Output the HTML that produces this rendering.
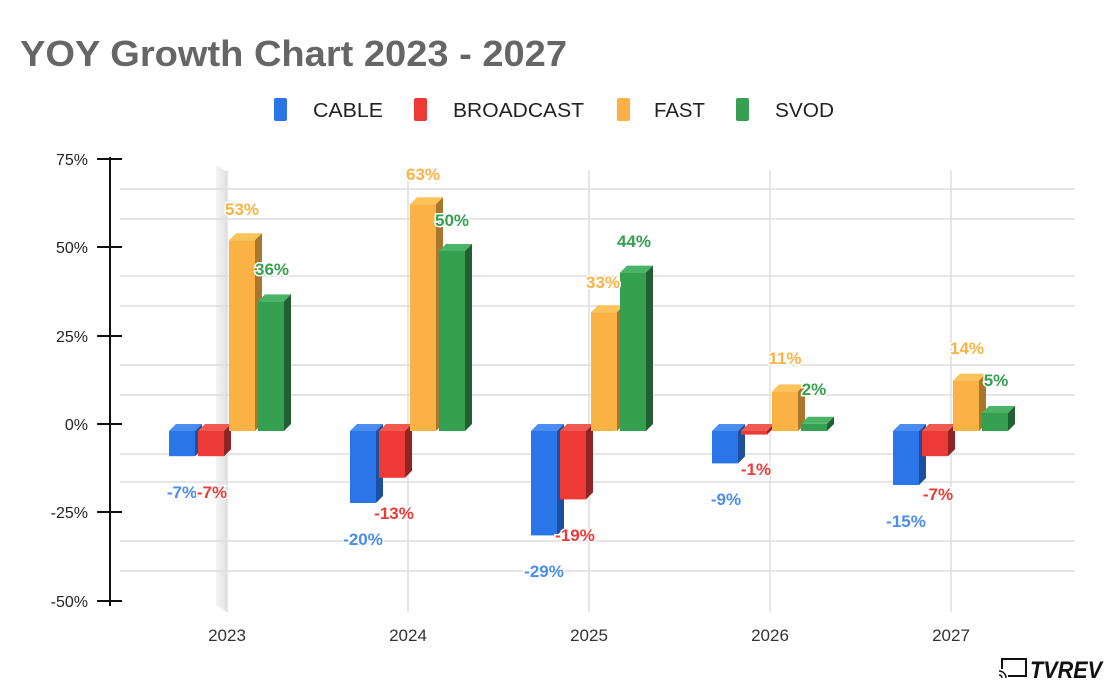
<!DOCTYPE html>
<html><head><meta charset="utf-8"><style>
body{margin:0;background:#fff;}
svg{display:block;font-family:"Liberation Sans",Arial,sans-serif;}
.l{font-weight:bold;font-size:17px;text-anchor:middle;stroke:#fff;stroke-width:3;paint-order:stroke;}
</style></head><body>
<svg width="1108" height="681" viewBox="0 0 1108 681">
<rect width="1108" height="681" fill="#fff"/>
<text x="20" y="66" font-size="36" font-weight="bold" fill="#666" textLength="547" lengthAdjust="spacingAndGlyphs">YOY Growth Chart 2023 - 2027</text>
<g font-size="20" fill="#222">
<rect x="274" y="98" width="13" height="23" rx="2" fill="#2a75e8"/><text x="313" y="117" textLength="70" lengthAdjust="spacingAndGlyphs">CABLE</text>
<rect x="414" y="98" width="13" height="23" rx="2" fill="#ee3a36"/><text x="453" y="117" textLength="131" lengthAdjust="spacingAndGlyphs">BROADCAST</text>
<rect x="617" y="98" width="13" height="23" rx="2" fill="#fbb244"/><text x="654" y="117" textLength="51" lengthAdjust="spacingAndGlyphs">FAST</text>
<rect x="736" y="98" width="13" height="23" rx="2" fill="#35a04f"/><text x="775" y="117" textLength="59" lengthAdjust="spacingAndGlyphs">SVOD</text>
</g>
<defs><linearGradient id="bg" x1="0" x2="1"><stop offset="0" stop-color="#f4f4f4"/><stop offset="1" stop-color="#e2e2e2"/></linearGradient></defs>
<polygon points="216,165 227,172 227,612 216,605" fill="url(#bg)"/>
<g stroke="#ddd" stroke-width="1.5">
<line x1="120" x2="1075" y1="189" y2="189"/><line x1="120" x2="1075" y1="219" y2="219"/>
<line x1="120" x2="1075" y1="276" y2="276"/><line x1="120" x2="1075" y1="306" y2="306"/>
<line x1="120" x2="1075" y1="365" y2="365"/><line x1="120" x2="1075" y1="395" y2="395"/>
<line x1="120" x2="1075" y1="454" y2="454"/><line x1="120" x2="1075" y1="482" y2="482"/>
<line x1="120" x2="1075" y1="541" y2="541"/><line x1="120" x2="1075" y1="571" y2="571"/>
<line x1="227" x2="227" y1="170" y2="612"/><line x1="408" x2="408" y1="170" y2="612"/>
<line x1="589" x2="589" y1="170" y2="612"/><line x1="770" x2="770" y1="170" y2="612"/>
<line x1="951" x2="951" y1="170" y2="612"/>
</g>
<g stroke="#111" stroke-width="2">
<line x1="110" x2="110" y1="157" y2="606"/>
<line x1="97" x2="122" y1="159" y2="159"/><line x1="97" x2="122" y1="247" y2="247"/>
<line x1="97" x2="122" y1="336" y2="336"/><line x1="97" x2="122" y1="424" y2="424"/>
<line x1="97" x2="122" y1="512" y2="512"/><line x1="97" x2="122" y1="601" y2="601"/>
</g>
<g font-size="16" fill="#222" text-anchor="end">
<text x="88" y="165">75%</text><text x="88" y="253">50%</text><text x="88" y="342">25%</text>
<text x="88" y="430">0%</text><text x="88" y="518">-25%</text><text x="88" y="607">-50%</text>
</g>
<g font-size="17" fill="#333" text-anchor="middle">
<text x="227" y="641">2023</text><text x="408" y="641">2024</text><text x="589" y="641">2025</text>
<text x="770" y="641">2026</text><text x="951" y="641">2027</text>
</g>
<g>
<g transform="translate(169,0)"><rect y="431" width="26" height="25.2" fill="#2a75e8"/><polygon points="0,431 7,424 33,424 26,431" fill="#4a8cf0"/><polygon points="26,431 33,424 33,449.2 26,456.2" fill="#1d4fa0"/></g>
<g transform="translate(198,0)"><rect y="431" width="26" height="25.2" fill="#ee3a36"/><polygon points="0,431 7,424 33,424 26,431" fill="#f05a50"/><polygon points="26,431 33,424 33,449.2 26,456.2" fill="#8e2423"/></g>
<g transform="translate(229,0)"><rect y="240.2" width="26" height="190.8" fill="#fbb244"/><polygon points="0,240.2 7,233.2 33,233.2 26,240.2" fill="#fdc35b"/><polygon points="26,240.2 33,233.2 33,424 26,431" fill="#a8762c"/></g>
<g transform="translate(258,0)"><rect y="301.4" width="26" height="129.6" fill="#35a04f"/><polygon points="0,301.4 7,294.4 33,294.4 26,301.4" fill="#4cb469"/><polygon points="26,301.4 33,294.4 33,424 26,431" fill="#225f33"/></g>
<g transform="translate(350,0)"><rect y="431" width="26" height="72" fill="#2a75e8"/><polygon points="0,431 7,424 33,424 26,431" fill="#4a8cf0"/><polygon points="26,431 33,424 33,496 26,503" fill="#1d4fa0"/></g>
<g transform="translate(379,0)"><rect y="431" width="26" height="46.8" fill="#ee3a36"/><polygon points="0,431 7,424 33,424 26,431" fill="#f05a50"/><polygon points="26,431 33,424 33,470.8 26,477.8" fill="#8e2423"/></g>
<g transform="translate(410,0)"><rect y="204.2" width="26" height="226.8" fill="#fbb244"/><polygon points="0,204.2 7,197.2 33,197.2 26,204.2" fill="#fdc35b"/><polygon points="26,204.2 33,197.2 33,424 26,431" fill="#a8762c"/></g>
<g transform="translate(439,0)"><rect y="251" width="26" height="180" fill="#35a04f"/><polygon points="0,251 7,244 33,244 26,251" fill="#4cb469"/><polygon points="26,251 33,244 33,424 26,431" fill="#225f33"/></g>
<g transform="translate(531,0)"><rect y="431" width="26" height="104.4" fill="#2a75e8"/><polygon points="0,431 7,424 33,424 26,431" fill="#4a8cf0"/><polygon points="26,431 33,424 33,528.4 26,535.4" fill="#1d4fa0"/></g>
<g transform="translate(560,0)"><rect y="431" width="26" height="68.4" fill="#ee3a36"/><polygon points="0,431 7,424 33,424 26,431" fill="#f05a50"/><polygon points="26,431 33,424 33,492.4 26,499.4" fill="#8e2423"/></g>
<g transform="translate(591,0)"><rect y="312.2" width="26" height="118.8" fill="#fbb244"/><polygon points="0,312.2 7,305.2 33,305.2 26,312.2" fill="#fdc35b"/><polygon points="26,312.2 33,305.2 33,424 26,431" fill="#a8762c"/></g>
<g transform="translate(620,0)"><rect y="272.6" width="26" height="158.4" fill="#35a04f"/><polygon points="0,272.6 7,265.6 33,265.6 26,272.6" fill="#4cb469"/><polygon points="26,272.6 33,265.6 33,424 26,431" fill="#225f33"/></g>
<g transform="translate(712,0)"><rect y="431" width="26" height="32.4" fill="#2a75e8"/><polygon points="0,431 7,424 33,424 26,431" fill="#4a8cf0"/><polygon points="26,431 33,424 33,456.4 26,463.4" fill="#1d4fa0"/></g>
<g transform="translate(741,0)"><rect y="431" width="26" height="3.6" fill="#ee3a36"/><polygon points="0,431 7,424 33,424 26,431" fill="#f05a50"/><polygon points="26,431 33,424 33,427.6 26,434.6" fill="#8e2423"/></g>
<g transform="translate(772,0)"><rect y="391.4" width="26" height="39.6" fill="#fbb244"/><polygon points="0,391.4 7,384.4 33,384.4 26,391.4" fill="#fdc35b"/><polygon points="26,391.4 33,384.4 33,424 26,431" fill="#a8762c"/></g>
<g transform="translate(801,0)"><rect y="423.8" width="26" height="7.2" fill="#35a04f"/><polygon points="0,423.8 7,416.8 33,416.8 26,423.8" fill="#4cb469"/><polygon points="26,423.8 33,416.8 33,424 26,431" fill="#225f33"/></g>
<g transform="translate(893,0)"><rect y="431" width="26" height="54" fill="#2a75e8"/><polygon points="0,431 7,424 33,424 26,431" fill="#4a8cf0"/><polygon points="26,431 33,424 33,478 26,485" fill="#1d4fa0"/></g>
<g transform="translate(922,0)"><rect y="431" width="26" height="25.2" fill="#ee3a36"/><polygon points="0,431 7,424 33,424 26,431" fill="#f05a50"/><polygon points="26,431 33,424 33,449.2 26,456.2" fill="#8e2423"/></g>
<g transform="translate(953,0)"><rect y="380.6" width="26" height="50.4" fill="#fbb244"/><polygon points="0,380.6 7,373.6 33,373.6 26,380.6" fill="#fdc35b"/><polygon points="26,380.6 33,373.6 33,424 26,431" fill="#a8762c"/></g>
<g transform="translate(982,0)"><rect y="413" width="26" height="18" fill="#35a04f"/><polygon points="0,413 7,406 33,406 26,413" fill="#4cb469"/><polygon points="26,413 33,406 33,424 26,431" fill="#225f33"/></g>
</g>
<g>
<text class="l" x="242" y="215" fill="#fbb244">53%</text>
<text class="l" x="272" y="275" fill="#35a04f">36%</text>
<text class="l" x="182" y="498" fill="#4a8cf0">-7%</text>
<text class="l" x="212" y="498" fill="#ee3a36">-7%</text>
<text class="l" x="423" y="180" fill="#fbb244">63%</text>
<text class="l" x="452" y="226" fill="#35a04f">50%</text>
<text class="l" x="363" y="545" fill="#4a8cf0">-20%</text>
<text class="l" x="394" y="519" fill="#ee3a36">-13%</text>
<text class="l" x="603" y="288" fill="#fbb244">33%</text>
<text class="l" x="634" y="247" fill="#35a04f">44%</text>
<text class="l" x="544" y="577" fill="#4a8cf0">-29%</text>
<text class="l" x="575" y="541" fill="#ee3a36">-19%</text>
<text class="l" x="785" y="364" fill="#fbb244">11%</text>
<text class="l" x="814" y="395" fill="#35a04f">2%</text>
<text class="l" x="726" y="505" fill="#4a8cf0">-9%</text>
<text class="l" x="756" y="475" fill="#ee3a36">-1%</text>
<text class="l" x="967" y="354" fill="#fbb244">14%</text>
<text class="l" x="996" y="386" fill="#35a04f">5%</text>
<text class="l" x="906" y="527" fill="#4a8cf0">-15%</text>
<text class="l" x="938" y="500" fill="#ee3a36">-7%</text>
</g>
<g>
<rect x="1002" y="659" width="24" height="17" fill="none" stroke="#111" stroke-width="2"/>
<rect x="998" y="669" width="10" height="10" fill="#fff"/>
<path d="M999,671 a7,7 0 0 1 7,7 M999,675 a3,3 0 0 1 3,3" fill="none" stroke="#111" stroke-width="1.5"/>
<text x="1030" y="678" font-size="24" font-weight="bold" font-style="italic" fill="#111" textLength="72" lengthAdjust="spacingAndGlyphs">TVREV</text>
</g>
</svg>
</body></html>
